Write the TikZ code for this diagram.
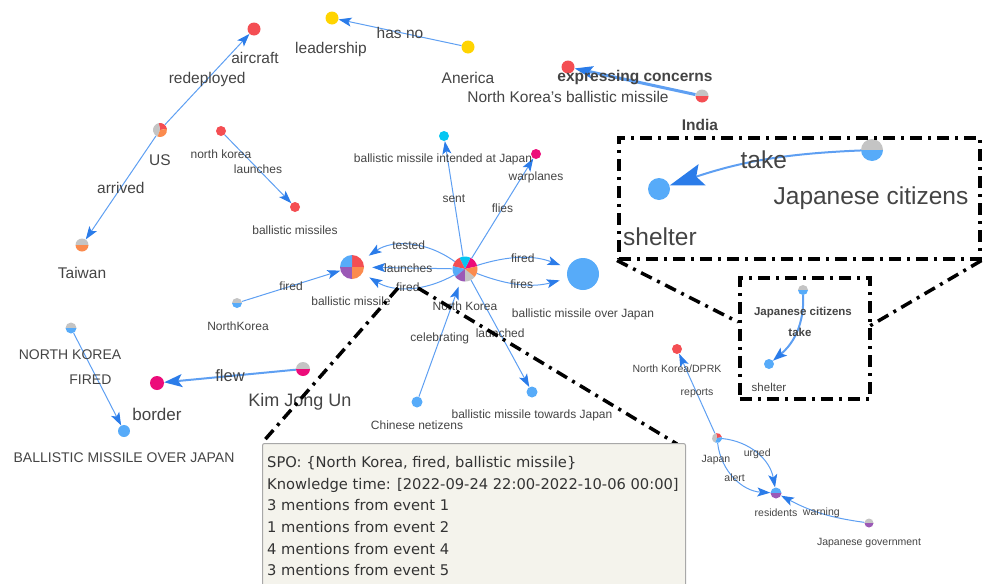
\documentclass[tikz,border=0pt]{standalone}
\usepackage{fontspec}
\setmainfont{Liberation Sans}
\newfontfamily\tipfont{DejaVu Sans}
\usetikzlibrary{arrows.meta}
\definecolor{nred}{HTML}{F44E53}
\definecolor{norange}{HTML}{FB8B4E}
\definecolor{ngray}{HTML}{C4C4C4}
\definecolor{nblue}{HTML}{57ABF9}
\definecolor{npurple}{HTML}{9B59B6}
\definecolor{nmagenta}{HTML}{EC0C7A}
\definecolor{ncyan}{HTML}{05C6F2}
\definecolor{nyellow}{HTML}{FFD400}
\definecolor{ntext}{HTML}{444444}
\definecolor{nline}{HTML}{5E9FF2}
\definecolor{narrow}{HTML}{2B7CE9}
\definecolor{tipfill}{HTML}{F4F3EC}
\definecolor{tipdraw}{HTML}{A8A8A8}
\newcommand{\piedot}[3]{\foreach \a/\b/\col in {#3} {\fill[fill=\col] (#1.center) -- ++(\a:#2) arc[start angle=\a, end angle=\b, radius=#2] -- cycle;}}

\begin{document}
\begin{tikzpicture}[x=1pt, y=-1pt,
    txt/.style={text=ntext, inner sep=0pt},
    big/.style={txt, font=\fontsize{15.5}{17}\selectfont},
    bigb/.style={txt, font=\bfseries\fontsize{15.5}{17}\selectfont},
    mid/.style={txt, font=\fontsize{14}{16}\selectfont},
    small/.style={txt, font=\fontsize{12}{14}\selectfont},
    smallb/.style={txt, font=\bfseries\fontsize{11.5}{13}\selectfont},
    tiny/.style={txt, font=\fontsize{10.5}{12}\selectfont},
    huge/.style={txt, font=\fontsize{24.5}{27}\selectfont},
    dot/.style={circle, inner sep=0pt, minimum size=2*#1},
    edge/.style={draw=nline, line width=1pt, -{Stealth[length=13pt, width=9pt, inset=3pt, color=narrow]}},
    boldedge/.style={draw=nline, line width=2pt, -{Stealth[length=18pt, width=13pt, inset=4pt, color=narrow]}},
    zoomline/.style={line width=3.5pt, dash pattern=on 12pt off 6pt on 3pt off 6pt},
    zoombox/.style={draw, zoomline, inner sep=0pt, anchor=north west},
    tipbox/.style={draw=tipdraw, fill=tipfill, line width=1pt, rounded corners=2pt, inner sep=0pt, anchor=north west}]
\useasboundingbox (0,0) rectangle (989,584);
\clip (0,0) rectangle (989,584);

\node[dot=6.5pt, fill=nred] (aircraft) at (254,29) {};
\node[dot=7pt] (us) at (160,130) {};
\node[dot=6.5pt] (taiwan) at (82,245) {};
\node[dot=5pt, fill=nred] (nk1) at (221,131) {};
\node[dot=5pt, fill=nred] (bms) at (295,207) {};
\node[dot=6.5pt, fill=nyellow] (leader) at (332,18) {};
\node[dot=6.5pt, fill=nyellow] (anerica) at (468,47) {};
\node[dot=6.5pt, fill=nred] (nkbm) at (568,67) {};
\node[dot=6.5pt] (india) at (702,96) {};
\node[dot=12.5pt] (nk) at (465,269) {};
\node[dot=12pt] (bm) at (352,267) {};
\node[dot=16pt, fill=nblue] (bmoj) at (583,274) {};
\node[dot=5pt, fill=ncyan] (bmij) at (444,136) {};
\node[dot=5pt, fill=nmagenta] (warplanes) at (536,154) {};
\node[dot=5.5pt, fill=nblue] (netizens) at (417,402) {};
\node[dot=5.5pt, fill=nblue] (bmtj) at (532,392) {};
\node[dot=5pt] (nk2) at (237,303) {};
\node[dot=7pt] (kju) at (303,369) {};
\node[dot=7pt, fill=nmagenta] (border) at (157,383) {};
\node[dot=5.5pt] (nk3) at (71,328) {};
\node[dot=6pt, fill=nblue] (bmoj2) at (124,431) {};
\node[dot=5pt, fill=nred] (dprk) at (677,349) {};
\node[dot=5pt] (japan) at (717,438) {};
\node[dot=5.5pt] (residents) at (776,493) {};
\node[dot=4.5pt] (jgov) at (869,523) {};
\node[dot=11pt] (jc) at (872,150) {};
\node[dot=11pt, fill=nblue] (shelter) at (659,189) {};
\node[dot=5pt] (jcs) at (803,290) {};
\node[dot=5pt, fill=nblue] (shelters) at (769,364) {};

\piedot{us}{7pt}{10/100/nred, 100/250/ngray, 250/370/norange}
\piedot{taiwan}{6.5pt}{0/180/ngray, 180/360/norange}
\piedot{india}{6.5pt}{0/180/ngray, 180/360/nred}
\piedot{nk}{12.5pt}{13/64/nmagenta, 64/116/ncyan, 116/167/nred, 167/219/nblue, 219/270/npurple, 270/321/ngray, 321/373/norange}
\piedot{bm}{12pt}{0/90/nred, 90/180/nblue, 180/270/npurple, 270/360/norange}
\piedot{nk2}{5pt}{0/180/ngray, 180/360/nblue}
\piedot{kju}{7pt}{0/180/ngray, 180/360/nmagenta}
\piedot{nk3}{5.5pt}{0/180/ngray, 180/360/nblue}
\piedot{japan}{5pt}{10/100/nred, 100/250/ngray, 250/370/nblue}
\piedot{residents}{5.5pt}{0/180/nblue, 180/360/npurple}
\piedot{jgov}{4.5pt}{0/180/ngray, 180/360/npurple}
\piedot{jc}{11pt}{0/180/ngray, 180/360/nblue}
\piedot{jcs}{5pt}{0/180/ngray, 180/360/nblue}

\draw[edge] (us) -- (aircraft) node[midway, big] {redeployed};
\draw[edge] (us) -- (taiwan) node[midway, big] {arrived};
\draw[edge] (nk1) -- (bms) node[midway, small] {launches};
\draw[edge] (anerica) -- (leader) node[midway, big] {has no};
\draw[draw=nline, line width=3pt, -{Stealth[length=18pt, width=12pt, inset=3pt, color=narrow]}] (india) -- (nkbm) node[midway, bigb, yshift=3.5pt] {expressing concerns};
\draw[edge, shorten >=8pt] (nk) to[bend right=35] node[small] {tested} (bm);
\draw[edge, shorten >=8pt] (nk) -- (bm) node[midway, small] {launches};
\draw[edge, shorten >=8pt] (nk) to[bend left=30] node[small] {fired} (bm);
\draw[edge, shorten >=8pt] (nk) to[bend left=19] node[small] {fired} (bmoj);
\draw[edge, shorten >=8pt] (nk) to[bend right=18] node[small] {fires} (bmoj);
\draw[edge] (nk) -- (bmij) node[midway, small] {sent};
\draw[edge] (nk) -- (warplanes) node[midway, small] {flies};
\draw[edge, shorten >=6pt] (netizens) -- (nk) node[midway, small] {celebrating};
\draw[edge] (nk) -- (bmtj) node[midway, small] {launched};
\draw[edge] (nk2) -- (bm) node[midway, small] {fired};
\draw[boldedge] (kju) -- (border) node[midway, txt, font=\fontsize{16.5}{18}\selectfont] {flew};
\draw[edge] (nk3) -- (bmoj2) node[midway, mid, xshift=-7pt] {FIRED};
\draw[edge] (japan) -- (dprk) node[midway, tiny] {reports};
\draw[edge] (japan) to[bend left=37] node[tiny] {urged} (residents);
\draw[edge] (japan) to[bend right=40] node[tiny] {alert} (residents);
\draw[edge] (jgov) to[bend left=10] node[tiny] {warning} (residents);
\draw[draw=nline, line width=2pt, -{Stealth[length=34pt, width=22pt, inset=6pt, color=narrow]}] (jc) to[bend right=8] node[huge] {take} (shelter);
\draw[boldedge, -{Stealth[length=14pt, width=10pt, inset=3pt, color=narrow]}] (jcs) to[out=-88, in=40] (shelters);

\node[big] (l-aircraft) at (255,58) {aircraft};
\node[big] (l-us) at (160,160) {US};
\node[big] (l-taiwan) at (82,273) {Taiwan};
\node[small] (l-nk1) at (221,154) {north korea};
\node[small] (l-bms) at (295,230) {ballistic missiles};
\node[big] (l-leader) at (331,49) {leadership};
\node[big] (l-anerica) at (468,78) {Anerica};
\node[big] (l-nkbm) at (568,97) {North Korea's ballistic missile};
\node[bigb] (l-india) at (700,125) {India};
\node[small] (l-nk) at (465,306) {North Korea};
\node[small] (l-bm) at (351,301) {ballistic missile};
\node[small] (l-bmoj) at (583,314) {ballistic missile over Japan};
\node[small] (l-bmij) at (443,159) {ballistic missile intended at Japan};
\node[small] (l-warplanes) at (536,177) {warplanes};
\node[small] (l-netizens) at (417,425) {Chinese netizens};
\node[small] (l-bmtj) at (532,415) {ballistic missile towards Japan};
\node[small] (l-nk2) at (238,326) {NorthKorea};
\node[txt, font=\fontsize{18}{20}\selectfont] (l-kju) at (300,402) {Kim Jong Un};
\node[txt, font=\fontsize{17}{19}\selectfont] (l-border) at (157,414) {border};
\node[mid] (l-nk3) at (70,355) {NORTH KOREA};
\node[mid] (l-bmoj2) at (124,458) {BALLISTIC MISSILE OVER JAPAN};
\node[tiny] (l-dprk) at (677,369) {North Korea/DPRK};
\node[tiny] (l-japan) at (716,460) {Japan};
\node[tiny] (l-residents) at (776,513) {residents};
\node[tiny] (l-jgov) at (869,543) {Japanese government};
\node[huge] (l-jc) at (871,198) {Japanese citizens};
\node[huge] (l-shelter) at (660,237) {shelter};
\node[smallb] (l-jcs) at (803,313) {Japanese citizens};
\node[smallb] (l-take) at (800,332) {take};
\node[txt, font=\fontsize{11.5}{13}\selectfont] (l-shelters) at (769,387) {shelter};

\node[zoombox, minimum width=361pt, minimum height=121pt] (bigbox) at (617,136) {};
\node[zoombox, minimum width=130pt, minimum height=121pt] (smallbox) at (738,276) {};
\coordinate (zl) at (738,322);
\coordinate (zr) at (868,327);
\draw[zoomline] (bigbox.south west) -- (zl);
\draw[zoomline] (bigbox.south east) -- (zr);

\coordinate (spo-l) at (398,288);
\coordinate (spo-r) at (418,288);
\coordinate (spo-ne) at (677,444);
\draw[zoomline] (spo-l) -- (262,443);
\draw[zoomline] (spo-r) -- (spo-ne);
\node[tipbox, minimum width=423pt, minimum height=150pt] (spo) at (262,443) {};
\node[txt, text=black!80, anchor=north west, align=left, font=\tipfont\fontsize{14.7}{21.7}\selectfont] (spo-text) at (267,456) {SPO: \{North Korea, fired, ballistic missile\}\\Knowledge time: [2022-09-24 22:00-2022-10-06 00:00]\\3 mentions from event 1\\1 mentions from event 2\\4 mentions from event 4\\3 mentions from event 5};
\end{tikzpicture}
\end{document}
